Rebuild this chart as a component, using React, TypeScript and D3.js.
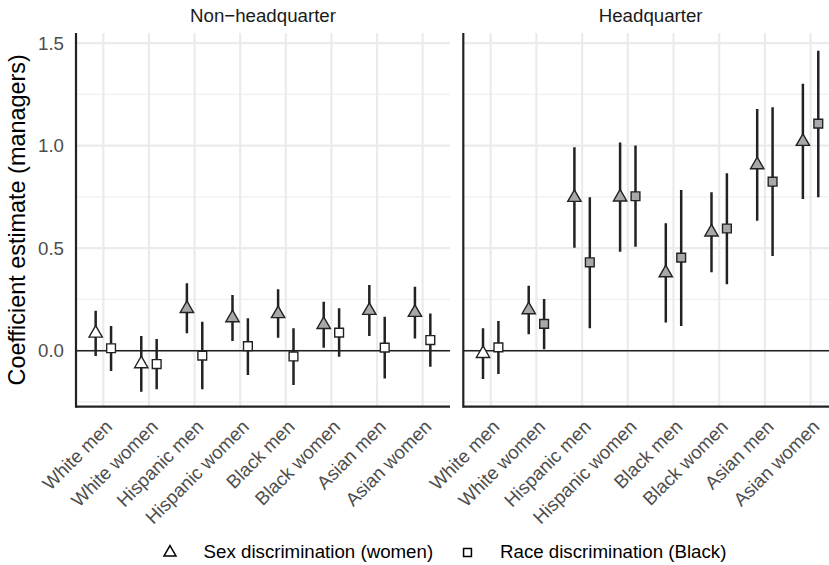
import React from 'react';
import * as d3 from 'd3';

const categories = ['White men', 'White women', 'Hispanic men', 'Hispanic women', 'Black men', 'Black women', 'Asian men', 'Asian women'];

const nonHqSexEst = [0.085, -0.064, 0.205, 0.16, 0.18, 0.127, 0.196, 0.186];
const nonHqSexLo = [-0.026, -0.2, 0.085, 0.047, 0.063, 0.015, 0.072, 0.06];
const nonHqSexHi = [0.195, 0.072, 0.329, 0.272, 0.3, 0.239, 0.32, 0.312];

const nonHqRaceEst = [0.012, -0.065, -0.024, 0.022, -0.028, 0.088, 0.015, 0.052];
const nonHqRaceLo = [-0.099, -0.188, -0.188, -0.119, -0.167, -0.029, -0.135, -0.078];
const nonHqRaceHi = [0.12, 0.057, 0.141, 0.158, 0.109, 0.207, 0.166, 0.182];

const hqSexEst = [-0.014, 0.199, 0.747, 0.749, 0.379, 0.578, 0.906, 1.02];
const hqSexLo = [-0.138, 0.08, 0.502, 0.483, 0.137, 0.382, 0.634, 0.74];
const hqSexHi = [0.109, 0.317, 0.992, 1.015, 0.621, 0.773, 1.179, 1.301];

const hqRaceEst = [0.016, 0.131, 0.431, 0.753, 0.454, 0.596, 0.824, 1.107];
const hqRaceLo = [-0.114, 0.007, 0.109, 0.507, 0.12, 0.324, 0.462, 0.748];
const hqRaceHi = [0.145, 0.252, 0.748, 1.0, 0.784, 0.865, 1.187, 1.463];

const panelTitles = ['Non\u2212headquarter', 'Headquarter'];
const yMajorTicks = [0, 0.5, 1.0, 1.5];
const yMinorTicks = [-0.25, 0.25, 0.75, 1.25];
const legendLabels = ['Sex discrimination (women)', 'Race discrimination (Black)'];
const yTitle = 'Coefficient estimate (managers)';

const W = 829;
const H = 565;
const FONT = "'Liberation Sans', Arial, Helvetica, sans-serif";
const panelTop = 33;
const panelBottom = 406.7;
const panelXs = [
  [76, 450],
  [463.3, 838],
];
const dodge = 7.7;
const GRAY = '#a8a8a8';
const INK = '#1a1a1a';

const panelData = [
  {
    sex: { est: nonHqSexEst, lo: nonHqSexLo, hi: nonHqSexHi },
    race: { est: nonHqRaceEst, lo: nonHqRaceLo, hi: nonHqRaceHi },
  },
  {
    sex: { est: hqSexEst, lo: hqSexLo, hi: hqSexHi },
    race: { est: hqRaceEst, lo: hqRaceLo, hi: hqRaceHi },
  },
];

const y = d3.scaleLinear().domain([-0.273, 1.549]).range([panelBottom, panelTop]);
const triPath = d3.symbol().type(d3.symbolTriangle).size(77)() as string;
const sqPath = d3.symbol().type(d3.symbolSquare).size(77)() as string;
const triLegend = d3.symbol().type(d3.symbolTriangle).size(62)() as string;
const sqLegend = d3.symbol().type(d3.symbolSquare).size(62)() as string;

function Panel({ idx }: { idx: number }) {
  const [x0, x1] = panelXs[idx];
  const x = d3.scalePoint<string>().domain(categories).range([x0, x1]).padding(0.6);
  const d = panelData[idx];
  const series = [
    { key: 'sex', s: d.sex, off: -dodge, path: triPath },
    { key: 'race', s: d.race, off: dodge, path: sqPath },
  ];
  return (
    <g>
      <clipPath id={`clip${idx}`}>
        <rect x={x0} y={panelTop} width={x1 - x0} height={panelBottom - panelTop} />
      </clipPath>
      {yMinorTicks.map((t) => (
        <line key={'mn' + t} x1={x0} x2={x1} y1={y(t)} y2={y(t)} stroke="#f0f0f0" strokeWidth={1.3} />
      ))}
      {yMajorTicks.map((t) => (
        <line key={'mj' + t} x1={x0} x2={x1} y1={y(t)} y2={y(t)} stroke="#ebebeb" strokeWidth={2.2} />
      ))}
      {categories.map((c) => (
        <line key={'v' + c} x1={x(c)} x2={x(c)} y1={panelTop} y2={panelBottom} stroke="#ebebeb" strokeWidth={2.2} />
      ))}
      <line x1={x0} x2={x1} y1={y(0)} y2={y(0)} stroke="#222" strokeWidth={1.4} />
      <g clipPath={`url(#clip${idx})`}>
        {series.map(({ key, s, off }) =>
          categories.map((c, i) => (
            <line
              key={key + 'e' + i}
              x1={(x(c) as number) + off}
              x2={(x(c) as number) + off}
              y1={y(s.lo[i])}
              y2={y(s.hi[i])}
              stroke="#222"
              strokeWidth={2.5}
            />
          ))
        )}
        {series.map(({ key, s, off, path }) =>
          categories.map((c, i) => (
            <path
              key={key + 'p' + i}
              d={path}
              transform={`translate(${(x(c) as number) + off},${y(s.est[i])})`}
              fill={s.lo[i] > 0 ? GRAY : '#ffffff'}
              stroke="#222"
              strokeWidth={1.4}
            />
          ))
        )}
      </g>
      <line x1={x0} x2={x0} y1={panelTop} y2={panelBottom + 1.1} stroke="#222" strokeWidth={2.2} />
      <line x1={x0} x2={x1} y1={panelBottom} y2={panelBottom} stroke="#222" strokeWidth={2.2} />
      <text x={(x0 + x1) / 2} y={21.5} textAnchor="middle" fontSize={18.7} fill={INK} fontFamily={FONT}>
        {panelTitles[idx]}
      </text>
      {categories.map((c) => (
        <text
          key={'xl' + c}
          transform={`translate(${(x(c) as number) + 10},428) rotate(-45)`}
          textAnchor="end"
          fontSize={18.7}
          fill="#4d4d4d"
          fontFamily={FONT}
        >
          {c}
        </text>
      ))}
    </g>
  );
}

export default function App() {
  return (
    <svg width={W} height={H} style={{ position: 'absolute', left: 0, top: 0, background: '#fff' }} xmlns="http://www.w3.org/2000/svg">
      <rect width={W} height={H} fill="#fff" />
      <Panel idx={0} />
      <Panel idx={1} />
      {yMajorTicks.map((t) => (
        <text key={'yl' + t} x={64} y={y(t)} dy="0.36em" textAnchor="end" fontSize={18.7} fill="#4d4d4d" fontFamily={FONT}>
          {d3.format('.1f')(t)}
        </text>
      ))}
      <text
        transform={`translate(25,${(panelTop + panelBottom) / 2}) rotate(-90)`}
        textAnchor="middle"
        fontSize={23.4}
        fill="#000"
        fontFamily={FONT}
      >
        {yTitle}
      </text>
      <g>
        <path d={triLegend} transform="translate(170,552.5)" fill="#fff" stroke="#000" strokeWidth={1.5} />
        <text x={203.6} y={558} fontSize={18.7} fill="#000" fontFamily={FONT}>
          {legendLabels[0]}
        </text>
        <path d={sqLegend} transform="translate(467.5,552.5)" fill="#fff" stroke="#000" strokeWidth={1.5} />
        <text x={500} y={558} fontSize={18.7} fill="#000" fontFamily={FONT}>
          {legendLabels[1]}
        </text>
      </g>
    </svg>
  );
}
